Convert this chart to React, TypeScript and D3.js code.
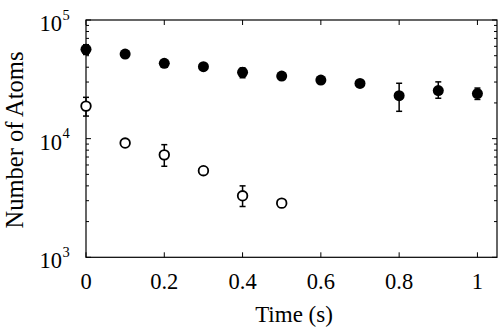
import React from "react";
import * as d3 from "d3";

const times = [0, 0.1, 0.2, 0.3, 0.4, 0.5, 0.6, 0.7, 0.8, 0.9, 1.0];
const filledValues = [56600, 51600, 43100, 40400, 36200, 33700, 31200, 29200, 23000, 25400, 24000];
const filledLow = [51200, 51600, 43100, 40400, 32600, 33700, 31200, 29200, 17000, 21900, 21400];
const filledHigh = [61900, 51600, 43100, 40400, 39500, 33700, 31200, 29200, 29300, 30100, 26700];

const openTimes = [0, 0.1, 0.2, 0.3, 0.4, 0.5];
const openValues = [18800, 9180, 7300, 5370, 3300, 2860];
const openLow = [15500, 9180, 5850, 5370, 2680, 2660];
const openHigh = [22300, 9180, 8900, 5370, 4000, 3050];

const xTicks = [0, 0.2, 0.4, 0.6, 0.8, 1];
const xTickLabels = ["0", "0.2", "0.4", "0.6", "0.8", "1"];
const yExponents = [3, 4, 5];

const W = 498;
const H = 331;
const left = 86;
const right = 497;
const top = 20;
const bottom = 257.3;
const FONT = '"Liberation Serif", "Times New Roman", Times, serif';

export default function App() {
  const x = d3.scaleLinear().domain([0, 1.05]).range([left, right]);
  const y = d3.scaleLog().domain([1000, 100000]).range([bottom, top]);

  const minor: number[] = [];
  for (const e of [3, 4]) {
    for (let m = 2; m <= 9; m++) minor.push(m * Math.pow(10, e));
  }
  const tickLen = 5;
  const minorLen = 3;
  const txt = (size: number) => ({ fontFamily: FONT, fontSize: `${size}px` });

  return (
    <svg width={W} height={H} style={{ position: "absolute", left: 0, top: 0, background: "#fff", fontFamily: FONT }}>
      <rect x={left} y={top} width={right - left} height={bottom - top} fill="none" stroke="#000" strokeWidth={1.2} />
      {xTicks.map((t, i) => (
        <g key={"xt" + i}>
          <line x1={x(t)} x2={x(t)} y1={bottom} y2={bottom - tickLen} stroke="#000" strokeWidth={1} />
          <line x1={x(t)} x2={x(t)} y1={top} y2={top + tickLen} stroke="#000" strokeWidth={1} />
          <text x={x(t)} y={289} textAnchor="middle" style={txt(22.5)} fill="#000">
            {xTickLabels[i]}
          </text>
        </g>
      ))}
      {yExponents.map((e) => {
        const v = Math.pow(10, e);
        const yy = y(v);
        return (
          <g key={"yt" + e}>
            <line x1={left} x2={left + tickLen} y1={yy} y2={yy} stroke="#000" strokeWidth={1} />
            <line x1={right} x2={right - tickLen} y1={yy} y2={yy} stroke="#000" strokeWidth={1} />
            <text x={62} y={yy + 11} textAnchor="end" style={txt(22.5)} fill="#000">
              10
            </text>
            <text x={62.5} y={yy - 0.5} textAnchor="start" style={txt(14.5)} fill="#000">
              {e}
            </text>
          </g>
        );
      })}
      {minor.map((v, i) => (
        <g key={"ym" + i}>
          <line x1={left} x2={left + minorLen} y1={y(v)} y2={y(v)} stroke="#000" strokeWidth={1} />
          <line x1={right} x2={right - minorLen} y1={y(v)} y2={y(v)} stroke="#000" strokeWidth={1} />
        </g>
      ))}
      {times.map((t, i) => (
        <g key={"f" + i}>
          {filledHigh[i] !== filledLow[i] && (
            <g stroke="#000" strokeWidth={1.5}>
              <line x1={x(t)} x2={x(t)} y1={y(filledLow[i])} y2={y(filledHigh[i])} />
              <line x1={x(t) - 3} x2={x(t) + 3} y1={y(filledLow[i])} y2={y(filledLow[i])} />
              <line x1={x(t) - 3} x2={x(t) + 3} y1={y(filledHigh[i])} y2={y(filledHigh[i])} />
            </g>
          )}
          <circle cx={x(t)} cy={y(filledValues[i])} r={5.5} fill="#000" />
        </g>
      ))}
      {openTimes.map((t, i) => (
        <g key={"o" + i}>
          {openHigh[i] !== openLow[i] && (
            <g stroke="#000" strokeWidth={1.5}>
              <line x1={x(t)} x2={x(t)} y1={y(openLow[i])} y2={y(openHigh[i])} />
              <line x1={x(t) - 3} x2={x(t) + 3} y1={y(openLow[i])} y2={y(openLow[i])} />
              <line x1={x(t) - 3} x2={x(t) + 3} y1={y(openHigh[i])} y2={y(openHigh[i])} />
            </g>
          )}
          <circle cx={x(t)} cy={y(openValues[i])} r={4.8} fill="#fff" stroke="#000" strokeWidth={1.8} />
        </g>
      ))}
      <text x={294} y={322} textAnchor="middle" style={txt(23)} fill="#000">
        Time (s)
      </text>
      <text
        transform={`translate(23, 140) rotate(-90)`}
        textAnchor="middle"
        style={txt(24.5)}
        fill="#000"
      >
        Number of Atoms
      </text>
    </svg>
  );
}
